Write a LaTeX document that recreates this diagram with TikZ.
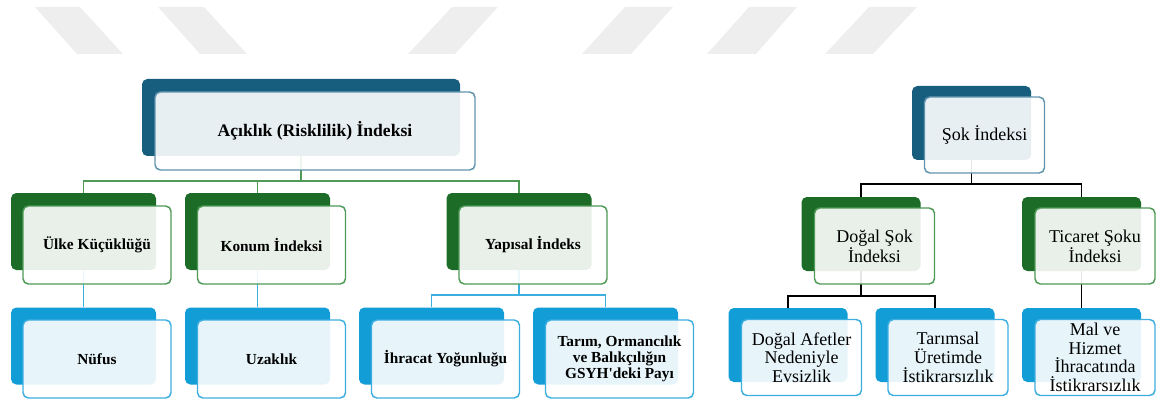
\documentclass[tikz,border=0pt]{standalone}
\usepackage{fontspec}
\setmainfont{Liberation Serif}
\definecolor{maviKoyu}{HTML}{175E7E}
\definecolor{maviKenar}{HTML}{5F93AE}
\definecolor{yesilKoyu}{HTML}{1C6B27}
\definecolor{yesilKenar}{HTML}{4F9A57}
\definecolor{acikKoyu}{HTML}{139DD6}
\definecolor{acikKenar}{HTML}{3DAEE0}
\definecolor{filigran}{HTML}{EEEEEE}
\begin{document}
\begin{tikzpicture}[x=0.75pt,y=-0.75pt,
	arka/.style={rectangle,rounded corners=4pt,inner sep=0pt},
	on/.style={rectangle,rounded corners=4pt,fill=white,fill opacity=0.9,text opacity=1,line width=1.1pt,align=center,inner sep=0pt},
	genis/.style={minimum width=238.5pt,minimum height=57.75pt},
	genisOn/.style={minimum width=240pt,minimum height=58.5pt,font=\fontsize{13.2}{15}\selectfont\bfseries},
	sol/.style={minimum width=108.75pt,minimum height=57.75pt},
	solOn/.style={minimum width=111pt,minimum height=58.5pt,font=\fontsize{11.5}{11.8}\selectfont\bfseries},
	sag/.style={minimum width=89.25pt,minimum height=55.5pt},
	sagOn/.style={minimum width=90pt,minimum height=57pt,font=\fontsize{13.5}{14}\selectfont},
	baglac/.style={line width=1.1pt}]
	\useasboundingbox (0,0) rectangle (1158,403);
	\fill[filigran] (35,7) -- (80,7) -- (123,54) -- (77,54) -- cycle;
	\fill[filigran] (158,7) -- (204,7) -- (247,54) -- (200,54) -- cycle;
	\fill[filigran] (452,7) -- (498,7) -- (455,54) -- (408,54) -- cycle;
	\fill[filigran] (625,7) -- (673,7) -- (631,54) -- (582,54) -- cycle;
	\fill[filigran] (749,7) -- (797,7) -- (756,54) -- (707,54) -- cycle;
	\fill[filigran] (869,7) -- (917,7) -- (873,54) -- (825,54) -- cycle;
	\node[arka,genis,fill=maviKoyu] (acik-b) at (301,117.5) {};
	\node[arka,sol,fill=yesilKoyu] (ulke-b) at (83.5,231.5) {};
	\node[arka,sol,fill=yesilKoyu] (konum-b) at (257.5,231.5) {};
	\node[arka,sol,fill=yesilKoyu] (yapi-b) at (519,231.5) {};
	\node[arka,sol,fill=acikKoyu] (nufus-b) at (83.5,346) {};
	\node[arka,sol,fill=acikKoyu] (uzak-b) at (257.5,346) {};
	\node[arka,sol,fill=acikKoyu] (ihr-b) at (431.5,346) {};
	\node[arka,sol,fill=acikKoyu] (tarim-b) at (605.5,346) {};
	\node[arka,sag,fill=maviKoyu] (sok-b) at (971.5,123) {};
	\node[arka,sag,fill=yesilKoyu] (dsok-b) at (861,234) {};
	\node[arka,sag,fill=yesilKoyu] (tic-b) at (1081.5,234) {};
	\node[arka,sag,fill=acikKoyu] (afet-b) at (788,345) {};
	\node[arka,sag,fill=acikKoyu] (tar-b) at (935,345) {};
	\node[arka,sag,fill=acikKoyu] (mal-b) at (1081.5,345) {};
	\coordinate (hat1) at (0,181);
	\coordinate (hat2) at (0,295);
	\coordinate (hat3) at (0,184);
	\coordinate (hat4) at (0,296);
	\draw[baglac,yesilKenar] (acik-b.south) -- (acik-b.south |- hat1) -| (ulke-b.north);
	\draw[baglac,yesilKenar] (acik-b.south |- hat1) -| (konum-b.north);
	\draw[baglac,yesilKenar] (acik-b.south |- hat1) -| (yapi-b.north);
	\draw[baglac,acikKenar] (ulke-b.south) -- (nufus-b.north);
	\draw[baglac,acikKenar] (konum-b.south) -- (uzak-b.north);
	\draw[baglac,acikKenar] (yapi-b.south) -- (yapi-b.south |- hat2) -| (ihr-b.north);
	\draw[baglac,acikKenar] (yapi-b.south |- hat2) -| (tarim-b.north);
	\draw[baglac,black] (sok-b.south) -- (sok-b.south |- hat3) -| (dsok-b.north);
	\draw[baglac,black] (sok-b.south |- hat3) -| (tic-b.north);
	\draw[baglac,black] (dsok-b.south) -- (dsok-b.south |- hat4) -| (afet-b.north);
	\draw[baglac,black] (dsok-b.south |- hat4) -| (tar-b.north);
	\draw[baglac,black] (tic-b.south) -- (mal-b.north);
	\node[on,genisOn,draw=maviKenar] (acik) at (315,131) {Açıklık (Risklilik) İndeksi};
	\node[on,solOn,draw=yesilKenar] (ulke) at (97,245) {Ülke Küçüklüğü};
	\node[on,solOn,draw=yesilKenar] (konum) at (271.5,245) {Konum İndeksi};
	\node[on,solOn,draw=yesilKenar] (yapi) at (533,245) {Yapısal İndeks};
	\node[on,solOn,draw=acikKenar] (nufus) at (97,359) {Nüfus};
	\node[on,solOn,draw=acikKenar] (uzak) at (271.5,359) {Uzaklık};
	\node[on,solOn,draw=acikKenar] (ihr) at (445.5,359) {İhracat Yoğunluğu};
	\node[on,solOn,draw=acikKenar] (tarim) at (619.5,359) {Tarım, Ormancılık\\ve Balıkçılığın\\GSYH\textquotesingle deki Payı};
	\node[on,sagOn,draw=maviKenar] (sok) at (984.5,135) {Şok İndeksi};
	\node[on,sagOn,draw=yesilKenar] (dsok) at (874.5,246) {Doğal Şok\\İndeksi};
	\node[on,sagOn,draw=yesilKenar] (tic) at (1095,246) {Ticaret Şoku\\İndeksi};
	\node[on,sagOn,draw=acikKenar] (afet) at (801.5,357.5) {Doğal Afetler\\Nedeniyle\\Evsizlik};
	\node[on,sagOn,draw=acikKenar] (tar) at (948,357.5) {Tarımsal\\Üretimde\\İstikrarsızlık};
	\node[on,sagOn,draw=acikKenar] (mal) at (1095,357.5) {Mal ve\\Hizmet\\İhracatında\\İstikrarsızlık};
\end{tikzpicture}
\end{document}
